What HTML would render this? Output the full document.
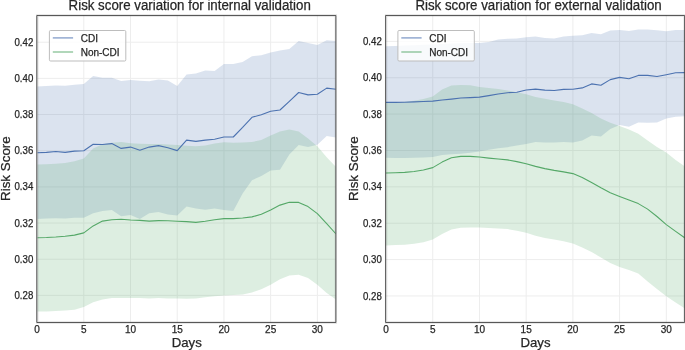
<!DOCTYPE html>
<html><head><meta charset="utf-8"><style>
html,body{margin:0;padding:0;background:#fff;}
svg{display:block;will-change:transform;}
text{font-family:"Liberation Sans",sans-serif;fill:#262626;stroke:#262626;stroke-width:0.25px;}
</style></head><body>
<svg width="685" height="350" viewBox="0 0 685 350">
<rect width="685" height="350" fill="#fff"/>
<clipPath id="c1"><rect x="37.5" y="15.5" width="298.0" height="307.0"/></clipPath>
<g stroke="#ededed" stroke-width="1"><line x1="83.81" y1="15.5" x2="83.81" y2="322.5"/><line x1="130.52" y1="15.5" x2="130.52" y2="322.5"/><line x1="177.23" y1="15.5" x2="177.23" y2="322.5"/><line x1="223.94" y1="15.5" x2="223.94" y2="322.5"/><line x1="270.65" y1="15.5" x2="270.65" y2="322.5"/><line x1="317.36" y1="15.5" x2="317.36" y2="322.5"/><line x1="37.5" y1="295.40" x2="335.5" y2="295.40"/><line x1="37.5" y1="259.23" x2="335.5" y2="259.23"/><line x1="37.5" y1="223.06" x2="335.5" y2="223.06"/><line x1="37.5" y1="186.89" x2="335.5" y2="186.89"/><line x1="37.5" y1="150.71" x2="335.5" y2="150.71"/><line x1="37.5" y1="114.54" x2="335.5" y2="114.54"/><line x1="37.5" y1="78.37" x2="335.5" y2="78.37"/><line x1="37.5" y1="42.20" x2="335.5" y2="42.20"/></g>
<g clip-path="url(#c1)">
<path d="M37.10,86.50L46.44,86.10L55.78,85.40L65.13,85.80L74.47,84.70L83.81,83.90L93.15,76.00L102.49,77.70L111.84,77.70L121.18,81.00L130.52,79.90L139.86,80.80L149.20,81.30L158.55,79.60L167.89,80.60L177.23,86.00L186.57,74.40L195.91,73.60L205.26,70.50L214.60,70.90L223.94,63.90L233.28,63.90L242.62,62.00L251.97,56.30L261.31,55.20L270.65,52.60L279.99,50.40L289.33,49.00L298.68,40.90L308.02,43.10L317.36,44.90L326.70,40.30L336.04,40.90L336.04,137.60L326.70,136.10L317.36,144.80L308.02,146.90L298.68,145.00L289.33,154.50L279.99,169.80L270.65,170.50L261.31,175.90L251.97,180.30L242.62,193.50L233.28,211.00L223.94,210.10L214.60,208.40L205.26,209.70L195.91,208.40L186.57,206.60L177.23,215.40L167.89,214.50L158.55,211.90L149.20,213.20L139.86,218.90L130.52,214.90L121.18,216.20L111.84,210.10L102.49,211.00L93.15,213.20L83.81,217.80L74.47,217.80L65.13,218.60L55.78,218.20L46.44,218.60L37.10,218.90Z" fill="#4C72B0" fill-opacity="0.2"/>
<path d="M37.10,164.60L46.44,164.20L55.78,163.80L65.13,162.90L74.47,161.30L83.81,158.50L93.15,148.60L102.49,144.30L111.84,142.70L121.18,142.10L130.52,143.20L139.86,143.80L149.20,144.00L158.55,144.00L167.89,144.50L177.23,145.10L186.57,145.80L195.91,146.20L205.26,145.40L214.60,143.60L223.94,142.30L233.28,142.70L242.62,142.50L251.97,142.00L261.31,140.00L270.65,135.60L279.99,131.60L289.33,129.40L298.68,131.50L308.02,138.40L317.36,146.30L326.70,157.20L336.04,167.10L336.04,299.50L326.70,292.90L317.36,284.80L308.02,278.00L298.68,274.70L289.33,275.60L279.99,279.30L270.65,284.80L261.31,289.20L251.97,292.40L242.62,294.40L233.28,295.10L223.94,295.50L214.60,296.20L205.26,297.30L195.91,298.40L186.57,298.80L177.23,298.60L167.89,298.40L158.55,298.10L149.20,298.60L139.86,297.90L130.52,297.90L121.18,297.90L111.84,298.10L102.49,299.50L93.15,302.30L83.81,307.10L74.47,309.70L65.13,310.60L55.78,311.10L46.44,311.50L37.10,311.50Z" fill="#55A868" fill-opacity="0.2"/>
<path d="M37.10,152.80L46.44,152.40L55.78,151.50L65.13,152.40L74.47,151.10L83.81,150.70L93.15,144.30L102.49,144.50L111.84,143.60L121.18,148.40L130.52,147.10L139.86,150.20L149.20,147.10L158.55,145.60L167.89,147.80L177.23,150.60L186.57,140.10L195.91,141.40L205.26,140.10L214.60,139.20L223.94,137.00L233.28,137.00L242.62,127.40L251.97,117.30L261.31,114.70L270.65,111.20L279.99,110.00L289.33,101.40L298.68,92.50L308.02,94.90L317.36,94.30L326.70,88.10L336.04,89.30" fill="none" stroke="#4C72B0" stroke-width="1.1" stroke-linejoin="round"/>
<path d="M37.10,237.70L46.44,237.50L55.78,237.00L65.13,236.20L74.47,235.10L83.81,232.90L93.15,225.90L102.49,221.10L111.84,219.70L121.18,219.30L130.52,220.00L139.86,220.40L149.20,221.10L158.55,220.60L167.89,220.80L177.23,221.30L186.57,221.60L195.91,222.40L205.26,221.30L214.60,219.70L223.94,218.60L233.28,218.60L242.62,218.00L251.97,216.90L261.31,214.30L270.65,209.90L279.99,205.10L289.33,202.20L298.68,202.40L308.02,206.60L317.36,213.60L326.70,223.70L336.04,234.00" fill="none" stroke="#55A868" stroke-width="1.1" stroke-linejoin="round"/>
</g>
<g stroke="#2a2a2a" stroke-opacity="0.14" stroke-width="2.4" stroke-linecap="square" fill="none"><path d="M37.3,15.5H335.85V322.5H37.3Z"/></g>
<g stroke="#2a2a2a" stroke-opacity="1" stroke-width="0.75" stroke-linecap="square" fill="none"><path d="M37.3,15.5H335.85V322.5H37.3Z"/></g>
<text x="33.30" y="299.00" text-anchor="end" font-size="10" textLength="18.8" lengthAdjust="spacingAndGlyphs">0.28</text>
<text x="33.30" y="262.83" text-anchor="end" font-size="10" textLength="18.8" lengthAdjust="spacingAndGlyphs">0.30</text>
<text x="33.30" y="226.66" text-anchor="end" font-size="10" textLength="18.8" lengthAdjust="spacingAndGlyphs">0.32</text>
<text x="33.30" y="190.49" text-anchor="end" font-size="10" textLength="18.8" lengthAdjust="spacingAndGlyphs">0.34</text>
<text x="33.30" y="154.31" text-anchor="end" font-size="10" textLength="18.8" lengthAdjust="spacingAndGlyphs">0.36</text>
<text x="33.30" y="118.14" text-anchor="end" font-size="10" textLength="18.8" lengthAdjust="spacingAndGlyphs">0.38</text>
<text x="33.30" y="81.97" text-anchor="end" font-size="10" textLength="18.8" lengthAdjust="spacingAndGlyphs">0.40</text>
<text x="33.30" y="45.80" text-anchor="end" font-size="10" textLength="18.8" lengthAdjust="spacingAndGlyphs">0.42</text>
<text x="37.10" y="332.9" text-anchor="middle" font-size="10">0</text>
<text x="83.81" y="332.9" text-anchor="middle" font-size="10">5</text>
<text x="130.52" y="332.9" text-anchor="middle" font-size="10">10</text>
<text x="177.23" y="332.9" text-anchor="middle" font-size="10">15</text>
<text x="223.94" y="332.9" text-anchor="middle" font-size="10">20</text>
<text x="270.65" y="332.9" text-anchor="middle" font-size="10">25</text>
<text x="317.36" y="332.9" text-anchor="middle" font-size="10">30</text>
<text x="186.80" y="346.5" text-anchor="middle" font-size="13.2">Days</text>
<text transform="translate(9.60,168.6) rotate(-90)" text-anchor="middle" font-size="13.4">Risk Score</text>
<text x="68.60" y="9.7" font-size="14" textLength="242.2" lengthAdjust="spacingAndGlyphs">Risk score variation for internal validation</text>
<rect x="49.40" y="30.5" width="76.4" height="30.5" rx="1.2" fill="#ffffff" fill-opacity="0.8" stroke="#bdbdbd" stroke-width="1"/>
<line x1="52.80" y1="37.9" x2="73.10" y2="37.9" stroke="#4C72B0" stroke-opacity="0.65" stroke-width="1.4"/>
<line x1="52.80" y1="52.0" x2="73.10" y2="52.0" stroke="#55A868" stroke-opacity="0.65" stroke-width="1.4"/>
<text x="80.70" y="41.5" font-size="10">CDI</text>
<text x="80.70" y="55.9" font-size="10">Non-CDI</text>
<clipPath id="c2"><rect x="386.0" y="15.5" width="298.5" height="307.0"/></clipPath>
<g stroke="#ededed" stroke-width="1"><line x1="432.76" y1="15.5" x2="432.76" y2="322.5"/><line x1="479.47" y1="15.5" x2="479.47" y2="322.5"/><line x1="526.18" y1="15.5" x2="526.18" y2="322.5"/><line x1="572.89" y1="15.5" x2="572.89" y2="322.5"/><line x1="619.60" y1="15.5" x2="619.60" y2="322.5"/><line x1="666.31" y1="15.5" x2="666.31" y2="322.5"/><line x1="386.0" y1="295.94" x2="684.5" y2="295.94"/><line x1="386.0" y1="259.57" x2="684.5" y2="259.57"/><line x1="386.0" y1="223.20" x2="684.5" y2="223.20"/><line x1="386.0" y1="186.83" x2="684.5" y2="186.83"/><line x1="386.0" y1="150.46" x2="684.5" y2="150.46"/><line x1="386.0" y1="114.09" x2="684.5" y2="114.09"/><line x1="386.0" y1="77.72" x2="684.5" y2="77.72"/><line x1="386.0" y1="41.35" x2="684.5" y2="41.35"/></g>
<g clip-path="url(#c2)">
<path d="M386.05,46.20L395.39,46.00L404.73,45.60L414.08,45.20L423.42,44.80L432.76,44.40L442.10,44.00L451.44,43.60L460.79,43.30L470.13,43.10L479.47,43.00L488.81,42.10L498.15,39.60L507.50,38.80L516.84,38.40L526.18,37.20L535.52,36.60L544.86,38.00L554.21,38.60L563.55,36.60L572.89,35.80L582.23,35.30L591.57,33.10L600.92,34.20L610.26,30.50L619.60,30.10L628.94,30.90L638.28,29.60L647.63,29.40L656.97,30.30L666.31,31.20L675.65,29.90L684.99,29.90L684.99,116.30L675.65,116.70L666.31,118.50L656.97,122.40L647.63,122.80L638.28,122.40L628.94,126.80L619.60,125.00L610.26,129.00L600.92,136.40L591.57,135.50L582.23,140.40L572.89,142.60L563.55,142.10L554.21,142.60L544.86,142.60L535.52,141.90L526.18,144.00L516.84,145.40L507.50,147.20L498.15,148.30L488.81,149.80L479.47,151.60L470.13,152.70L460.79,153.80L451.44,154.20L442.10,154.90L432.76,157.00L423.42,157.50L414.08,157.70L404.73,158.10L395.39,158.10L386.05,157.70Z" fill="#4C72B0" fill-opacity="0.2"/>
<path d="M386.05,102.40L395.39,102.20L404.73,101.70L414.08,100.80L423.42,99.10L432.76,96.50L442.10,89.50L451.44,85.60L460.79,84.90L470.13,85.30L479.47,86.90L488.81,88.00L498.15,89.10L507.50,90.50L516.84,92.20L526.18,94.20L535.52,96.90L544.86,98.80L554.21,100.50L563.55,102.00L572.89,104.20L582.23,108.60L591.57,113.00L600.92,118.50L610.26,122.80L619.60,126.10L628.94,129.40L638.28,133.80L647.63,140.40L656.97,146.90L666.31,152.40L675.65,160.10L684.99,166.40L684.99,308.60L675.65,302.40L666.31,296.20L656.97,289.10L647.63,281.40L638.28,273.40L628.94,270.00L619.60,267.00L610.26,262.90L600.92,257.40L591.57,252.10L582.23,247.60L572.89,243.50L563.55,241.30L554.21,239.50L544.86,238.00L535.52,235.80L526.18,232.80L516.84,230.70L507.50,229.10L498.15,228.50L488.81,228.00L479.47,227.60L470.13,227.40L460.79,227.80L451.44,229.60L442.10,233.90L432.76,239.40L423.42,242.30L414.08,243.80L404.73,244.70L395.39,245.10L386.05,245.50Z" fill="#55A868" fill-opacity="0.2"/>
<path d="M386.05,102.40L395.39,102.40L404.73,102.20L414.08,101.90L423.42,101.50L432.76,101.10L442.10,100.00L451.44,99.10L460.79,98.00L470.13,97.60L479.47,97.10L488.81,95.60L498.15,94.00L507.50,92.70L516.84,92.20L526.18,90.00L535.52,89.10L544.86,90.10L554.21,90.50L563.55,89.40L572.89,89.20L582.23,87.90L591.57,83.90L600.92,85.30L610.26,79.60L619.60,77.40L628.94,78.70L638.28,75.40L647.63,75.40L656.97,76.50L666.31,74.70L675.65,72.80L684.99,72.60" fill="none" stroke="#4C72B0" stroke-width="1.1" stroke-linejoin="round"/>
<path d="M386.05,173.00L395.39,172.80L404.73,172.40L414.08,171.50L423.42,170.00L432.76,167.60L442.10,162.10L451.44,157.70L460.79,156.40L470.13,156.40L479.47,157.00L488.81,158.10L498.15,159.00L507.50,159.90L516.84,161.60L526.18,163.80L535.52,166.40L544.86,168.60L554.21,170.40L563.55,171.90L572.89,173.60L582.23,177.40L591.57,182.40L600.92,187.70L610.26,192.70L619.60,196.40L628.94,199.90L638.28,203.60L647.63,209.10L656.97,216.50L666.31,224.60L675.65,231.40L684.99,238.00" fill="none" stroke="#55A868" stroke-width="1.1" stroke-linejoin="round"/>
</g>
<g stroke="#2a2a2a" stroke-opacity="0.14" stroke-width="2.4" stroke-linecap="square" fill="none"><path d="M386.1,15.5H684.6V322.5H386.1Z"/></g>
<g stroke="#2a2a2a" stroke-opacity="1" stroke-width="0.75" stroke-linecap="square" fill="none"><path d="M386.1,15.5H684.6V322.5H386.1Z"/></g>
<text x="381.80" y="299.54" text-anchor="end" font-size="10" textLength="18.8" lengthAdjust="spacingAndGlyphs">0.28</text>
<text x="381.80" y="263.17" text-anchor="end" font-size="10" textLength="18.8" lengthAdjust="spacingAndGlyphs">0.30</text>
<text x="381.80" y="226.80" text-anchor="end" font-size="10" textLength="18.8" lengthAdjust="spacingAndGlyphs">0.32</text>
<text x="381.80" y="190.43" text-anchor="end" font-size="10" textLength="18.8" lengthAdjust="spacingAndGlyphs">0.34</text>
<text x="381.80" y="154.06" text-anchor="end" font-size="10" textLength="18.8" lengthAdjust="spacingAndGlyphs">0.36</text>
<text x="381.80" y="117.69" text-anchor="end" font-size="10" textLength="18.8" lengthAdjust="spacingAndGlyphs">0.38</text>
<text x="381.80" y="81.32" text-anchor="end" font-size="10" textLength="18.8" lengthAdjust="spacingAndGlyphs">0.40</text>
<text x="381.80" y="44.95" text-anchor="end" font-size="10" textLength="18.8" lengthAdjust="spacingAndGlyphs">0.42</text>
<text x="386.05" y="332.9" text-anchor="middle" font-size="10">0</text>
<text x="432.76" y="332.9" text-anchor="middle" font-size="10">5</text>
<text x="479.47" y="332.9" text-anchor="middle" font-size="10">10</text>
<text x="526.18" y="332.9" text-anchor="middle" font-size="10">15</text>
<text x="572.89" y="332.9" text-anchor="middle" font-size="10">20</text>
<text x="619.60" y="332.9" text-anchor="middle" font-size="10">25</text>
<text x="666.31" y="332.9" text-anchor="middle" font-size="10">30</text>
<text x="535.55" y="346.5" text-anchor="middle" font-size="13.2">Days</text>
<text transform="translate(358.10,168.6) rotate(-90)" text-anchor="middle" font-size="13.4">Risk Score</text>
<text x="415.40" y="9.7" font-size="14" textLength="246.3" lengthAdjust="spacingAndGlyphs">Risk score variation for external validation</text>
<rect x="397.90" y="30.5" width="76.4" height="30.5" rx="1.2" fill="#ffffff" fill-opacity="0.8" stroke="#bdbdbd" stroke-width="1"/>
<line x1="401.30" y1="37.9" x2="421.60" y2="37.9" stroke="#4C72B0" stroke-opacity="0.65" stroke-width="1.4"/>
<line x1="401.30" y1="52.0" x2="421.60" y2="52.0" stroke="#55A868" stroke-opacity="0.65" stroke-width="1.4"/>
<text x="429.20" y="41.5" font-size="10">CDI</text>
<text x="429.20" y="55.9" font-size="10">Non-CDI</text>
</svg>
</body></html>
